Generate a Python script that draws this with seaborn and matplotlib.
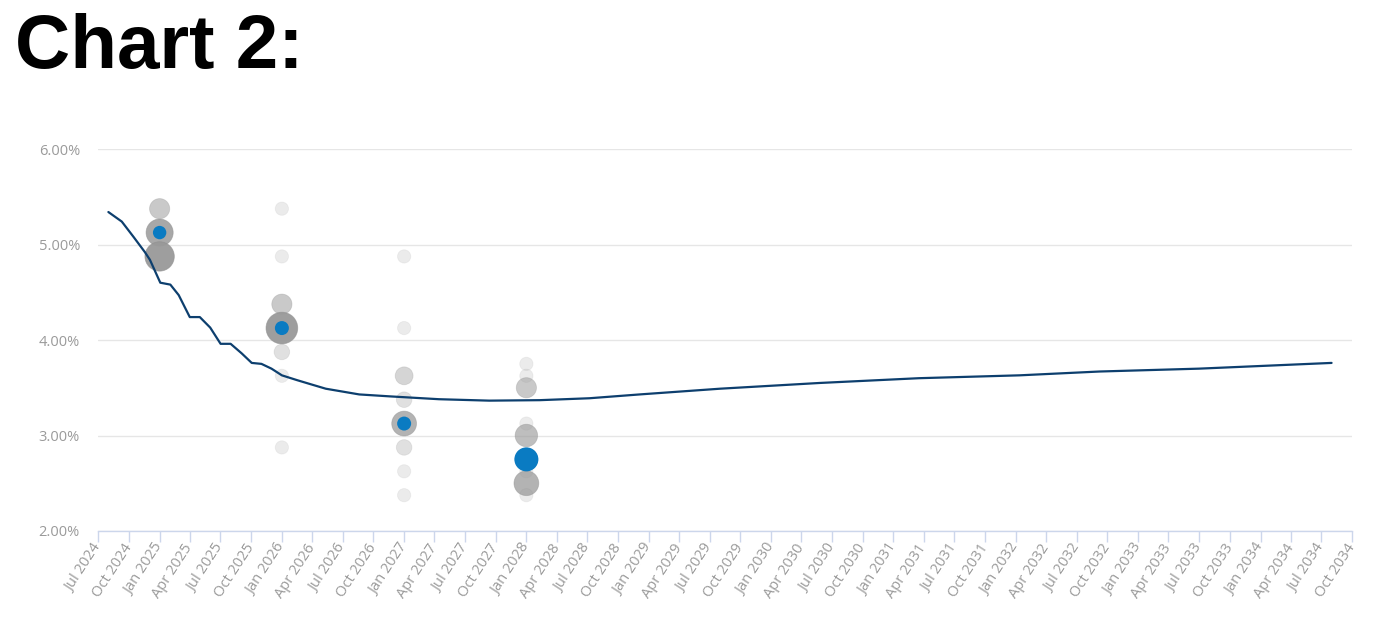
import numpy as np
import pandas as pd
import matplotlib
matplotlib.use("Agg")
import matplotlib.pyplot as plt
import matplotlib.dates as mdates
import seaborn as sns

# ---------------- data ----------------
# Market-implied policy rate path
path_dates = ["2024-08-01", "2024-09-10", "2024-10-15", "2024-11-18", "2024-12-03",
              "2025-01-03", "2025-02-02", "2025-02-27", "2025-04-01", "2025-05-01",
              "2025-06-01", "2025-07-02", "2025-08-01", "2025-09-03", "2025-10-03",
              "2025-11-01", "2025-12-01", "2026-01-01", "2026-02-15", "2026-03-25",
              "2026-05-12", "2026-07-01", "2026-08-20", "2026-11-18", "2027-04-15",
              "2027-09-12", "2028-02-10", "2028-07-07", "2028-12-04", "2029-08-01",
              "2030-05-25", "2031-03-18", "2032-01-12", "2032-09-07", "2033-07-01",
              "2034-08-01"]
path_rates = [5.34, 5.24, 5.08, 4.92, 4.84,
              4.60, 4.58, 4.47, 4.24, 4.24,
              4.13, 3.96, 3.96, 3.86, 3.76,
              3.75, 3.70, 3.63, 3.58, 3.54,
              3.49, 3.46, 3.43, 3.41, 3.38,
              3.365, 3.37, 3.39, 3.43, 3.49,
              3.55, 3.60, 3.63, 3.67, 3.70,
              3.76]

# FOMC dot plot (projection -> plotted date)
dot_groups = ["2024", "2025", "2026", "Longer run"]
dot_dates = ["2025-01-01", "2026-01-01", "2027-01-01", "2028-01-01"]
rates_2024 = [5.375, 5.125, 4.875]
counts_2024 = [4, 7, 8]
rates_2025 = [5.375, 4.875, 4.375, 4.125, 3.875, 3.625, 2.875]
counts_2025 = [1, 1, 4, 9, 2, 1, 1]
rates_2026 = [4.875, 4.125, 3.625, 3.375, 3.125, 2.875, 2.625, 2.375]
counts_2026 = [1, 1, 3, 2, 6, 2, 1, 1]
rates_lr = [3.75, 3.625, 3.5, 3.125, 3.0, 2.75, 2.625, 2.5, 2.375]
counts_lr = [1, 1, 4, 1, 5, 5, 1, 6, 1]
median_rates = [5.125, 4.125, 3.125, 2.75]

y_ticks = [2.0, 3.0, 4.0, 5.0, 6.0]
title_text = "Chart 2:"

# ---------------- frames ----------------
path_df = pd.DataFrame({"date": pd.to_datetime(path_dates), "rate": path_rates})
rows = []
for d, rs, cs in zip(dot_dates, [rates_2024, rates_2025, rates_2026, rates_lr],
                     [counts_2024, counts_2025, counts_2026, counts_lr]):
    for r, c in zip(rs, cs):
        rows.append({"date": pd.Timestamp(d), "rate": r, "count": c})
dots_df = pd.DataFrame(rows)
med_df = pd.DataFrame({"date": pd.to_datetime(dot_dates), "rate": median_rates})

# ---------------- style ----------------
DPI = 100
W, H = 1373, 625
sns.set_theme(style="white")
plt.rcParams["font.family"] = ["Open Sans", "DejaVu Sans"]

def px_area(r_px):
    d_pt = 2 * r_px * 72 / DPI
    return d_pt ** 2

ucounts = sorted(dots_df["count"].unique())
size_map = {c: px_area(5.5 + 1.15 * c) for c in ucounts}
pal_map = {c: (0.6, 0.6, 0.6, min(0.95, 0.08 + 0.11 * c)) for c in ucounts}
median_r_px = [6.7, 7.0, 7.0, 12.0]

fig = plt.figure(figsize=(W / DPI, H / DPI), dpi=DPI)
ax = fig.add_axes([98 / W, 1 - 531 / H, 1254 / W, (531 - 149) / H])

sns.scatterplot(data=dots_df, x="date", y="rate", hue="count", size="count",
                palette=pal_map, sizes=size_map, linewidth=0, legend=False,
                ax=ax, zorder=2)
coll = ax.collections[-1]
coll.set_facecolors([pal_map[c] for c in dots_df["count"]])
coll.set_edgecolors([(0.55, 0.55, 0.55, min(0.6, pal_map[c][3] * 0.6)) for c in dots_df["count"]])
coll.set_linewidths(0.6)

sns.scatterplot(data=med_df, x="date", y="rate", color="#0a7bc2",
                s=[px_area(r) for r in median_r_px], linewidth=0, legend=False,
                ax=ax, zorder=3)

sns.lineplot(data=path_df, x="date", y="rate", color="#0d3f6e", linewidth=1.6,
             ax=ax, zorder=4)

# axes formatting
ax.set_xlim(pd.Timestamp("2024-07-01"), pd.Timestamp("2034-10-01"))
ax.set_ylim(2.0, 6.0)
ax.set_xlabel("")
ax.set_ylabel("")
for s in ["left", "right", "top"]:
    ax.spines[s].set_visible(False)
ax.spines["bottom"].set_color("#ccd6eb")
ax.spines["bottom"].set_linewidth(1.0)

ax.set_yticks(y_ticks)
ax.set_yticklabels([f"{v:.2f}%" for v in y_ticks])
ax.yaxis.grid(True, color="#e6e6e6", linewidth=1.0)
ax.xaxis.grid(False)
ax.tick_params(axis="y", length=0, pad=13, labelsize=10.5, labelcolor="#9a9a9a")

xt = pd.date_range("2024-07-01", "2034-10-01", freq="QS")
ax.set_xticks(xt)
ax.set_xticklabels([d.strftime("%b %Y") for d in xt])
ax.tick_params(axis="x", length=8, width=1.0, color="#ccd6eb", direction="out",
               pad=2, labelsize=10.5, labelcolor="#9a9a9a", bottom=True)
for lbl in ax.get_xticklabels():
    lbl.set_rotation(57)
    lbl.set_ha("right")
    lbl.set_va("center")
    lbl.set_rotation_mode("anchor")

fig.text(15 / W, 1 - 68 / H, title_text, fontsize=55, fontweight="bold",
         family=["Liberation Sans", "DejaVu Sans"], color="black",
         ha="left", va="baseline")

fig.savefig("out.png", dpi=DPI)
